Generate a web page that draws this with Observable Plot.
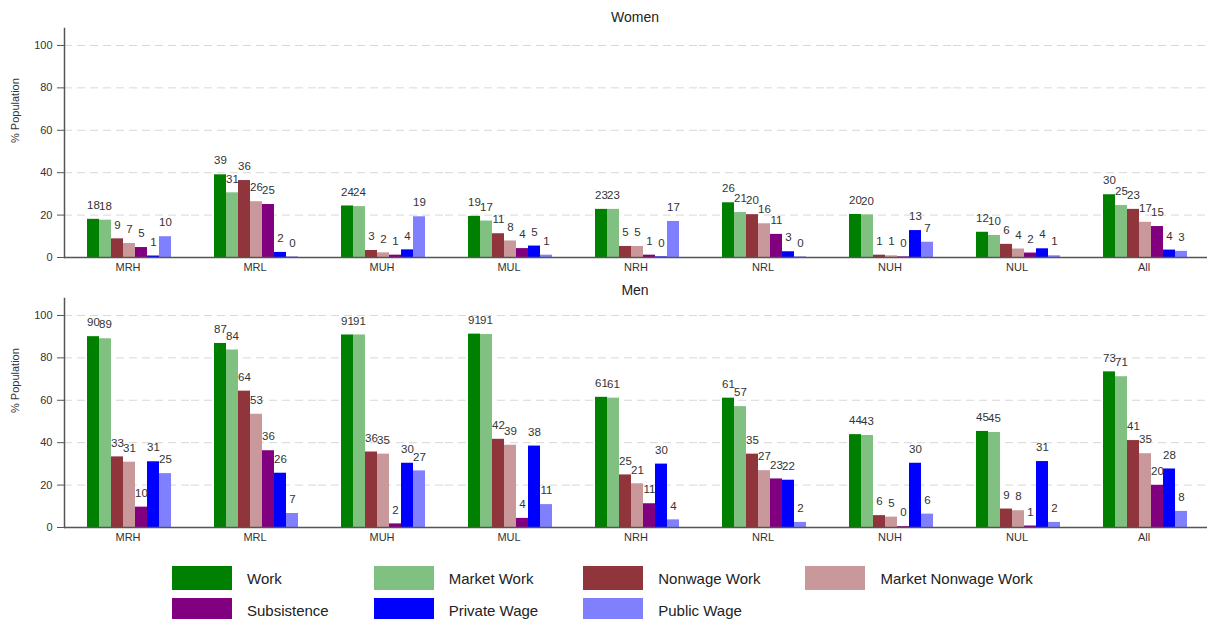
<!DOCTYPE html>
<html>
<head>
<meta charset="utf-8">
<script src="https://cdn.jsdelivr.net/npm/d3@7"></script>
<script src="https://cdn.jsdelivr.net/npm/@observablehq/plot@0.6"></script>
<style>
  html, body { margin: 0; padding: 0; background: #fff; }
  body { width: 1207px; height: 619px; overflow: hidden; font-family: "Liberation Sans", Arial, sans-serif; color: #222; }
  .title { box-sizing: border-box; padding-left: 63px; text-align: center; font-size: 14px; color: #222; }
  #t1 { height: 28px; line-height: 34px; }
  #t2 { height: 18px; line-height: 20px; }
  svg { display: block; }
  .legend { display: grid; grid-template-columns: repeat(4, auto); justify-content: start; column-gap: 45px; row-gap: 8px; padding-top: 16px; padding-left: 172px; font-size: 15px; color: #222; }
  .item { display: flex; align-items: center; }
  .sw { width: 60px; height: 24px; margin-right: 15px; box-sizing: border-box; }
</style>
</head>
<body>
<div class="title" id="t1">Women</div>
<div id="women"></div>
<div class="title" id="t2">Men</div>
<div id="men"></div>
<div class="legend" id="legend"></div>
<script>
const categories = ["MRH", "MRL", "MUH", "MUL", "NRH", "NRL", "NUH", "NUL", "All"];
const series = ["Work", "Market Work", "Nonwage Work", "Market Nonwage Work", "Subsistence", "Private Wage", "Public Wage"];
const colors = ["#008000", "#80c080", "#90353b", "#c8989a", "#800080", "#0000ff", "#8080ff"];
const yTicks = [0, 20, 40, 60, 80, 100];

// rows follow categories, columns follow series
const womenValues = [
  [18, 17.6, 8.8, 6.6, 4.7, 0.7, 9.8],
  [39, 30.5, 36.3, 26.3, 25, 2.4, 0.3],
  [24.3, 24, 3.3, 2.2, 1.1, 3.6, 19.2],
  [19.4, 17.2, 11.2, 7.8, 4.2, 5.4, 1.1],
  [22.7, 22.7, 5.2, 5.2, 1.1, 0.3, 17],
  [25.8, 21.2, 20.2, 15.9, 10.9, 2.7, 0.3],
  [20.3, 20.1, 1.1, 0.8, 0.3, 12.7, 7.2],
  [11.9, 10.4, 6.2, 4, 2.1, 4.1, 0.8],
  [29.6, 24.5, 22.7, 16.6, 14.6, 3.5, 2.9]
];
const menValues = [
  [90, 89, 33.3, 30.8, 9.6, 31, 25.4],
  [86.8, 83.7, 64.3, 53.4, 36.2, 25.6, 6.6],
  [90.8, 90.8, 35.6, 34.6, 1.7, 30.3, 26.7],
  [91.2, 91, 41.6, 38.8, 4.3, 38.4, 10.8],
  [61.4, 61, 24.8, 20.6, 11.2, 29.9, 3.6],
  [61, 57, 34.6, 26.8, 22.9, 22.3, 2.4],
  [43.8, 43.4, 5.6, 4.9, 0.4, 30.3, 6.3],
  [45.3, 44.8, 8.7, 7.9, 0.7, 31.1, 2.4],
  [73.4, 71.1, 41, 34.8, 19.9, 27.6, 7.6]
];

function panel(vals, marginBottom) {
  const data = categories.flatMap((c, i) => series.map((s, j) => ({cat: c, series: s, value: vals[i][j]})));
  return Plot.plot({
    width: 1207,
    height: 252,
    marginLeft: 63,
    marginRight: 0,
    marginTop: 0,
    marginBottom,
    style: {fontFamily: "'Liberation Sans', Arial, sans-serif", fontSize: "11px", color: "#333", background: "#fff", overflow: "visible"},
    fx: {domain: categories, paddingInner: 0, paddingOuter: 0, axis: null, label: null},
    x: {domain: series, paddingInner: 0, paddingOuter: 1.654, align: 0.53, axis: null},
    y: {domain: [0, 108]},
    color: {domain: series, range: colors},
    marks: [
      Plot.gridY(yTicks.slice(1), {stroke: "#d8d8d8", strokeOpacity: 1, strokeDasharray: "8,5"}),
      Plot.barY(data, {fx: "cat", x: "series", y: "value", fill: "series", insetLeft: 0, insetRight: 0}),
      Plot.ruleY([0], {stroke: "#555", strokeWidth: 1.5}),
      Plot.frame({anchor: "left", facetAnchor: "left", stroke: "#555", strokeWidth: 1.5}),
      Plot.text(data, {fx: "cat", x: "series", y: "value", text: d => String(Math.round(d.value)), dy: -14, fill: "#333", fontSize: 11.5}),
      Plot.axisY(yTicks, {facetAnchor: "left", tickSize: 7, tickPadding: 5, label: null, stroke: "#555", fill: "#333", fontSize: 11}),
      Plot.text(categories, {fx: d => d, text: d => d, frameAnchor: "bottom", dy: 13, fill: "#333", fontSize: 11}),
      Plot.text(["% Population"], {fx: () => "MRH", text: d => d, frameAnchor: "left", dx: -49, rotate: -90, fill: "#333", fontSize: 11})
    ]
  });
}

document.getElementById("women").append(panel(womenValues, 23));
document.getElementById("men").append(panel(menValues, 23));

const legend = document.getElementById("legend");
series.forEach((s, i) => {
  const item = document.createElement("div");
  item.className = "item";
  const sw = document.createElement("div");
  sw.className = "sw";
  sw.style.background = colors[i];
  const lab = document.createElement("span");
  lab.textContent = s;
  item.append(sw, lab);
  legend.append(item);
});
</script>
</body>
</html>
